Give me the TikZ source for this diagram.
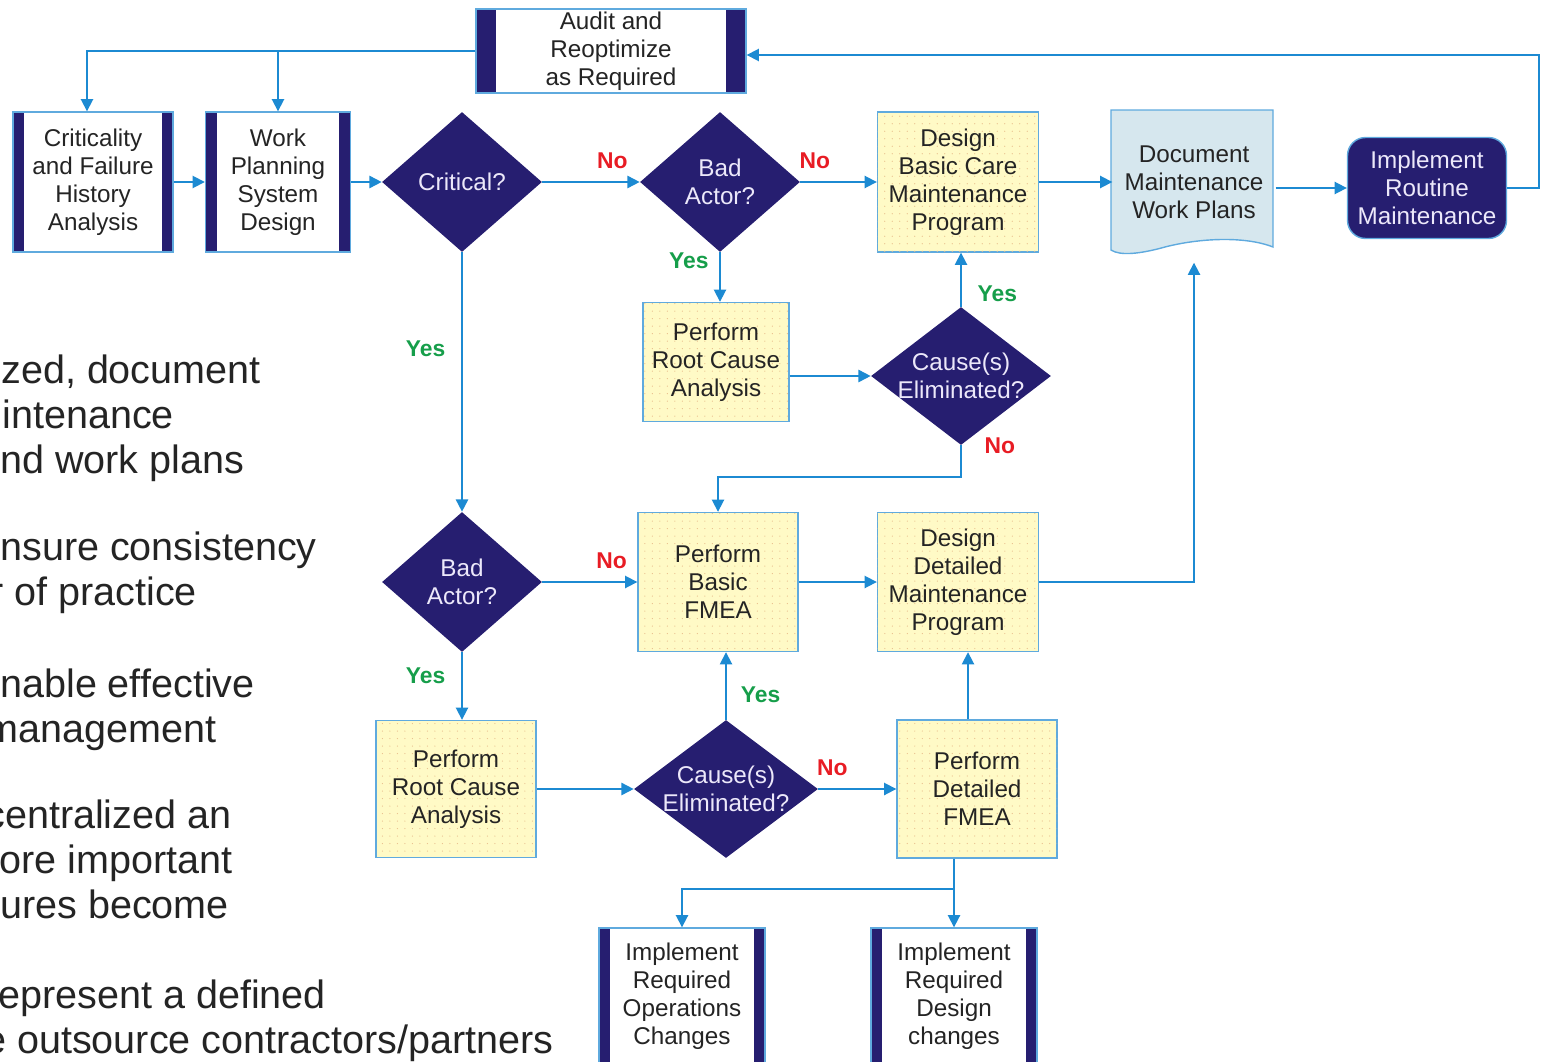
\documentclass[tikz,border=0pt]{standalone}
\usepackage{fontspec}
\setmainfont{Liberation Sans}
\usetikzlibrary{shapes.geometric,arrows.meta,patterns.meta}
\definecolor{navy}{RGB}{38,30,112}
\definecolor{wireblue}{RGB}{28,138,210}
\definecolor{edgeblue}{RGB}{95,170,222}
\definecolor{paleyellow}{RGB}{255,250,198}
\definecolor{dotorange}{RGB}{232,190,140}
\definecolor{docfill}{RGB}{214,231,238}
\definecolor{nored}{RGB}{232,28,36}
\definecolor{yesgreen}{RGB}{22,158,74}
\definecolor{inktext}{RGB}{36,36,36}
\definecolor{lavender}{RGB}{236,232,250}

\begin{document}
\begin{tikzpicture}[x=0.02cm, y=-0.02cm,
    box/.style={draw=edgeblue, line width=0.8pt, align=center, text=inktext,
      font=\fontsize{13.8}{15.9}\selectfont, inner sep=0pt},
    yellowbox/.style={box, fill=paleyellow,
      postaction={pattern={Dots[distance=0.15cm, radius=0.35pt]}, pattern color=dotorange}},
    barbox/.style={box, fill=white, path picture={
        \fill[navy] (path picture bounding box.north west) rectangle
          ([xshift=#1]path picture bounding box.south west);
        \fill[navy] (path picture bounding box.north east) rectangle
          ([xshift=-#1]path picture bounding box.south east);}},
    barbox/.default=0.22cm,
    roundbox/.style={box, fill=navy, text=lavender, rounded corners=0.36cm},
    decision/.style={diamond, fill=navy, minimum width=3.2cm, minimum height=2.8cm, inner sep=0pt},
    dtext/.style={text=lavender, align=center, font=\fontsize{13.8}{15.9}\selectfont},
    flow/.style={draw=wireblue, line width=1pt, -{Triangle[length=7pt,width=7pt]}},
    ylab/.style={text=yesgreen, inner sep=1pt, font=\bfseries\fontsize{13}{15}\selectfont},
    nlab/.style={text=nored, inner sep=1pt, font=\bfseries\fontsize{13}{15}\selectfont},
    side/.style={anchor=base west, inner sep=0pt, text=inktext, font=\fontsize{22.5}{27}\selectfont}]
  %%%%% START %%%%%

  \useasboundingbox (0,0) rectangle (1547,1061);

  % text cut off at the left
  \node[side] (s1) at (1,383) {zed, document};
  \node[side] (s2) at (2,428) {intenance};
  \node[side] (s3) at (0,473) {nd work plans};
  \node[side] (s4) at (0,560) {nsure consistency};
  \node[side] (s5) at (-10,605) {r of practice};
  \node[side] (s6) at (0,697) {nable effective};
  \node[side] (s7) at (-15,742) {management};
  \node[side] (s8) at (-15,828) {centralized an};
  \node[side] (s9) at (-1,873) {ore important};
  \node[side] (s10) at (0,918) {ures become};
  \node[side] (s11) at (-2,1008) {epresent a defined};
  \node[side] (s12) at (-16,1053) {e outsource contractors/partners};

  % top row
  \node[barbox=0.4cm, minimum width=5.4cm, minimum height=1.68cm] (audit) at (611,51) {Audit and\\Reoptimize\\as Required};
  \node[barbox, minimum width=3.2cm, minimum height=2.8cm] (cfh) at (93,182) {Criticality\\and Failure\\History\\Analysis};
  \node[barbox, minimum width=2.9cm, minimum height=2.8cm] (wps) at (278,182) {Work\\Planning\\System\\Design};
  \node[decision, label={[dtext]center:Critical?}] (crq) at (462,182) {};
  \node[decision, label={[dtext]center:Bad\\Actor?}] (ba1) at (720,182) {};
  \node[yellowbox, minimum width=3.22cm, minimum height=2.8cm] (dbc) at (958,182) {Design\\Basic Care\\Maintenance\\Program};
  \draw[draw=edgeblue, line width=0.8pt, fill=docfill] (1111,110) -- (1273,110) -- (1273,247)
    .. controls (1245,236) and (1200,238) .. (1165,247)
    .. controls (1140,254) and (1120,256) .. (1111,250) -- cycle;
  \node[box, draw=none, minimum width=3.24cm, minimum height=2.8cm] (dmw) at (1194,182) {Document\\Maintenance\\Work Plans};
  \node[roundbox, minimum width=3.18cm, minimum height=2.02cm] (irm) at (1427,188) {Implement\\Routine\\Maintenance};

  % middle
  \node[yellowbox, minimum width=2.92cm, minimum height=2.38cm] (rca1) at (716,362) {Perform\\Root Cause\\Analysis};
  \node[decision, minimum width=3.6cm, minimum height=2.76cm, label={[dtext]center:Cause(s)\\Eliminated?}] (ce1) at (961,376) {};
  \node[decision, label={[dtext]center:Bad\\Actor?}] (ba2) at (462,582) {};
  \node[yellowbox, minimum width=3.2cm, minimum height=2.78cm] (bfm) at (718,582) {Perform\\Basic\\FMEA};
  \node[yellowbox, minimum width=3.22cm, minimum height=2.78cm] (ddm) at (958,582) {Design\\Detailed\\Maintenance\\Program};

  % bottom
  \node[yellowbox, minimum width=3.2cm, minimum height=2.74cm] (rca2) at (456,789) {Perform\\Root Cause\\Analysis};
  \node[decision, minimum width=3.68cm, minimum height=2.76cm, label={[dtext]center:Cause(s)\\Eliminated?}] (ce2) at (726,789) {};
  \node[yellowbox, minimum width=3.2cm, minimum height=2.76cm] (dfm) at (977,789) {Perform\\Detailed\\FMEA};
  \node[barbox, minimum width=3.32cm, minimum height=2.72cm] (ops) at (682,996) {Implement\\Required\\Operations\\Changes};
  \node[barbox, minimum width=3.32cm, minimum height=2.72cm] (dch) at (954,996) {Implement\\Required\\Design\\changes};

  % connectors
  \draw[flow] (audit.west) -| ([xshift=-0.12cm]cfh.north);
  \draw[flow] (audit.west -| wps.north) -- (wps.north);
  \draw[flow] (irm.east) -- ++(32,0) |- ([yshift=-0.08cm]audit.east);
  \draw[flow] (cfh.east) -- (wps.west);
  \draw[flow] (wps.east) -- (crq.west);
  \draw[flow] (crq.east) -- node[nlab, pos=0.72, above=6pt] {No} (ba1.west);
  \draw[flow] (ba1.east) -- node[nlab, pos=0.19, above=6pt] {No} (dbc.west);
  \draw[flow] (dbc.east) -- (dmw.west);
  \draw[flow] (dmw.east |- irm.west) -- (irm.west);
  \draw[flow] (ba1.south) -- node[ylab, pos=0.18, left=5pt] {Yes} (ba1.south |- rca1.north);
  \draw[flow] (rca1.east |- ce1.west) -- (ce1.west);
  \draw[flow] (ce1.north) -- node[ylab, pos=0.24, right=8pt] {Yes} (ce1.north |- dbc.south);
  \draw[flow] (ce1.south) node[nlab, right=12pt] {No} -- ++(0,32) -| (bfm.north);
  \draw[flow] (crq.south) -- node[ylab, pos=0.37, left=8pt] {Yes} (ba2.north);
  \draw[flow] (ba2.east) -- node[nlab, pos=0.73, above=6pt] {No} (bfm.west);
  \draw[flow] (ba2.south) -- node[ylab, pos=0.34, left=8pt] {Yes} (ba2.south |- rca2.north);
  \draw[flow] (bfm.east) -- (ddm.west);
  \draw[flow] (ddm.east) -| ([yshift=-0.2cm]dmw.south);
  \draw[flow] (rca2.east) -- (ce2.west);
  \draw[flow] (ce2.north) -- node[ylab, pos=0.37, right=7pt] {Yes} (ce2.north |- bfm.south);
  \draw[flow] (ce2.east) -- node[nlab, pos=0.18, above=6pt] {No} (dfm.west);
  \coordinate (dfmtop) at ([xshift=-0.18cm]dfm.north);
  \draw[flow] (dfmtop) -- (dfmtop |- ddm.south);
  \draw[flow] (dfm.south -| dch.north) -- (dch.north);
  \draw[flow] (dfm.south -| dch.north) ++(0,30) -| (ops.north);

  %%%%% END %%%%%
\end{tikzpicture}
\end{document}
